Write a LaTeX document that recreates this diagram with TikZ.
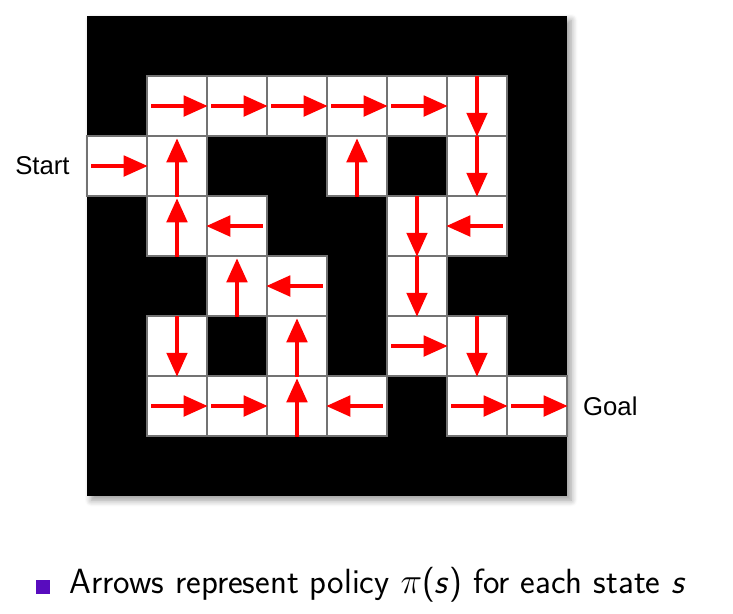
\documentclass[tikz,border=0pt]{standalone}
\usepackage{fontspec}
\newfontfamily\labelfont{Liberation Sans}
\usetikzlibrary{arrows.meta,shadows.blur,positioning}
\definecolor{bulletpurple}{RGB}{88,12,190}

\newcommand{\Inset}{0.08cm}
\newcommand{\Gap}{0.05cm}

\begin{document}
\begin{tikzpicture}[
        wall/.style={fill=black, blur shadow={shadow xshift=2pt, shadow yshift=-2pt, shadow blur radius=3pt, shadow blur steps=8}},
        cell/.style={draw=black!55, fill=white, line width=0.7pt, minimum size=1cm, inner sep=0pt},
        policy/.style={red, line width=1.8pt, -{Triangle[length=0.4cm, width=0.34cm]}},
        tag/.style={font=\labelfont\fontsize{12.2}{14}\selectfont, inner sep=0pt},
        bullet/.style={fill=bulletpurple, minimum size=0.24cm, inner sep=0pt}
    ]
        \useasboundingbox (0,0) rectangle (12.217,10.217);

        \coordinate (O) at (1.45,1.95);
        \coordinate (P) at (9.45,9.95);
        \fill[wall] (O) rectangle (P);% Walls

        % Free cells, named by row and column
        \foreach \r/\c in {1/1,1/2,1/3,1/4,1/5,1/6,2/0,2/1,2/4,2/6,3/1,3/2,3/5,3/6,4/2,4/3,4/5,5/1,5/3,5/5,5/6,6/1,6/2,6/3,6/4,6/6,6/7}
            \node[cell] (c\r\c) at (1.95+\c,9.45-\r) {};

        \foreach \r/\c in {1/1,1/2,1/3,1/4,1/5,2/0,5/5,6/1,6/2,6/6,6/7}
            \draw[policy] ([xshift=\Inset]c\r\c.west) -- (c\r\c.east);% Right
        \foreach \r/\c in {3/2,3/6,4/3,6/4}
            \draw[policy] ([xshift=-\Inset]c\r\c.east) -- (c\r\c.west);% Left
        \foreach \r/\c in {2/1,2/4,3/1,4/2,5/3,6/3}
            \draw[policy] (c\r\c.south) -- ([yshift=-\Gap]c\r\c.north);% Up
        \foreach \r/\c in {1/6,2/6,3/5,4/5,5/1,5/6}
            \draw[policy] ([yshift=-0.02cm]c\r\c.north) -- (c\r\c.south);% Down

        \node[tag, left=0.27cm of c20] (start) {Start};
        \node[tag, right=0.25cm of c67] (goal) {Goal};

        \node[bullet] (dot) at (0.717,0.433) {};
        \node[anchor=base west, inner sep=0pt, font=\sffamily\fontsize{16.6}{19}\selectfont] (caption) at (1.15,0.317)
            {Arrows represent policy $\pi$(\textit{s}) for each state \textit{s}};
    \end{tikzpicture}
\end{document}
